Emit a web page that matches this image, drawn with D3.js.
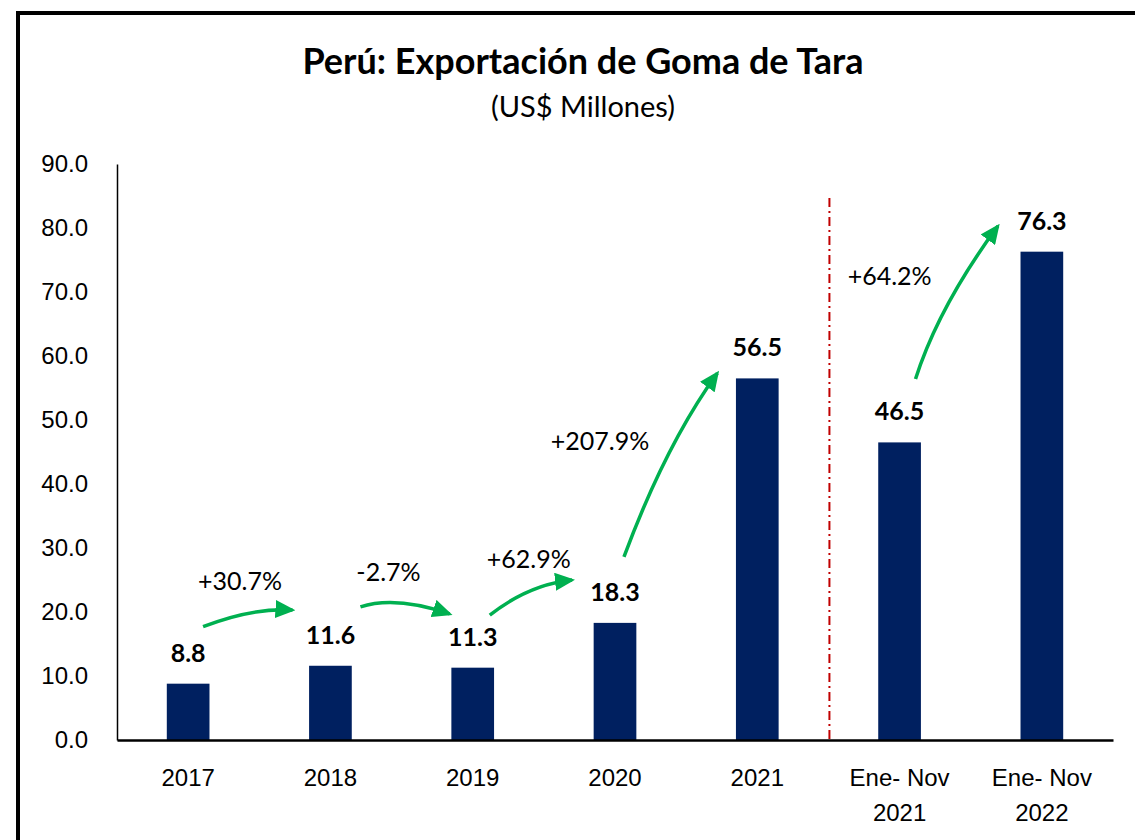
<!DOCTYPE html>
<html>
<head>
<meta charset="utf-8">
<title>Perú: Exportación de Goma de Tara</title>
<script src="https://cdn.jsdelivr.net/npm/d3@7"></script>
<style>
    body { margin: 0; background: #fff; }
    svg { display: block; font-family: Lato, "Open Sans", sans-serif; }
    .tick-label { font-size: 24px; fill: #000; }
    .value-label { font-size: 25px; font-weight: bold; fill: #000; }
    .growth-label { font-size: 25px; fill: #000; }
</style>
</head>
<body>
<div id="chart"></div>
<script>
// data
const categories = ['2017', '2018', '2019', '2020', '2021', 'Ene- Nov|2021', 'Ene- Nov|2022'];
const values = [8.8, 11.6, 11.3, 18.3, 56.5, 46.5, 76.3];
const yTicks = [0, 10, 20, 30, 40, 50, 60, 70, 80, 90];
const growthLabels = ['+30.7%', '-2.7%', '+62.9%', '+207.9%', '+64.2%'];

// arrow annotations: [category index, offset in bands, value]
const arrowFrom = [[0, 0.105, 17.7], [1, 0.211, 20.8], [2, 0.12, 19.5], [3, 0.063, 28.6], [5, 0.112, 56.4]];
const arrowCtrl = [[0, 0.453, 20.7], [1, 0.457, 22.6], [2, 0.394, 24.3], [3, 0.355, 46.1], [5, 0.274, 67.7]];
const arrowTo = [[1, -0.267, 20.3], [2, -0.162, 19.7], [3, -0.302, 25.0], [4, -0.281, 57.3], [6, -0.309, 80.3]];
const labelAt = [[0, 0.365, 23.4], [1, 0.408, 24.8], [2, 0.394, 26.9], [3, -0.105, 45.3], [5, -0.07, 71.1]];

const width = 1135, height = 840;
const plot = { left: 117, right: 1113, top: 164, bottom: 740 };

const svg = d3.select('#chart').append('svg')
    .attr('width', width)
    .attr('height', height);

// outer frame (runs off the right and bottom edge)
svg.append('rect')
    .attr('x', 18).attr('y', 13)
    .attr('width', 1300).attr('height', 1000)
    .attr('fill', 'none')
    .attr('stroke', '#000')
    .attr('stroke-width', 4);

svg.append('text')
    .attr('x', 583).attr('y', 74)
    .attr('text-anchor', 'middle')
    .style('font-size', '36px')
    .style('font-weight', 'bold')
    .text('Perú: Exportación de Goma de Tara');

svg.append('text')
    .attr('x', 583).attr('y', 117)
    .attr('text-anchor', 'middle')
    .style('font-size', '29px')
    .text('(US$ Millones)');

const x = d3.scaleBand()
    .domain(categories)
    .range([plot.left, plot.right])
    .paddingInner(0.7)
    .paddingOuter(0.35);

const y = d3.scaleLinear()
    .domain([0, 90])
    .range([plot.bottom, plot.top]);

const step = x.step();
const center = i => x(categories[i]) + x.bandwidth() / 2;
const px = p => center(p[0]) + p[1] * step;

// y axis
const yAxis = svg.append('g')
    .attr('transform', `translate(${plot.left},0)`)
    .call(d3.axisLeft(y).tickValues(yTicks).tickSize(0).tickPadding(29).tickFormat(d3.format('.1f')));
yAxis.select('.domain').attr('stroke', '#000').attr('stroke-width', 1.5);
yAxis.selectAll('.tick text').attr('class', 'tick-label').attr('font-family', null).attr('font-size', null);

// separator between full years and Jan-Nov
const sepX = x(categories[5]) - x.step() * x.paddingInner() / 2 + 1;
svg.append('line')
    .attr('x1', sepX).attr('x2', sepX)
    .attr('y1', 198).attr('y2', plot.bottom)
    .attr('stroke', '#C00000')
    .attr('stroke-width', 2)
    .attr('stroke-dasharray', '9,4,2,4');

// bars
svg.selectAll('.bar')
    .data(values)
    .enter()
    .append('rect')
    .attr('class', 'bar')
    .attr('x', (d, i) => x(categories[i]))
    .attr('y', d => y(d))
    .attr('width', x.bandwidth())
    .attr('height', d => y(0) - y(d))
    .attr('fill', '#002060');

svg.selectAll('.value-label')
    .data(values)
    .enter()
    .append('text')
    .attr('class', 'value-label')
    .attr('x', (d, i) => center(i))
    .attr('y', d => y(d) - 22)
    .attr('text-anchor', 'middle')
    .text(d => d.toFixed(1));

// x axis
const xAxis = svg.append('g')
    .attr('transform', `translate(0,${plot.bottom})`)
    .call(d3.axisBottom(x).tickSize(0).tickFormat(''));
xAxis.select('.domain').attr('stroke', '#000').attr('stroke-width', 2.5);

xAxis.selectAll('.tick').each(function (d) {
    const t = d3.select(this).append('text')
        .attr('class', 'tick-label')
        .attr('text-anchor', 'middle')
        .attr('fill', '#000');
    d.split('|').forEach((line, k) => {
        t.append('tspan').attr('x', 0).attr('y', 46 + k * 35).text(line);
    });
});

// growth arrows
svg.append('defs').append('marker')
    .attr('id', 'head')
    .attr('markerUnits', 'userSpaceOnUse')
    .attr('viewBox', '0 0 20 18')
    .attr('markerWidth', 20).attr('markerHeight', 18)
    .attr('refX', 17).attr('refY', 9)
    .attr('orient', 'auto')
    .append('path')
    .attr('d', 'M0,0 L20,9 L0,18 Z')
    .attr('fill', '#00B050');

growthLabels.forEach((g, i) => {
    const p = d3.path();
    p.moveTo(px(arrowFrom[i]), y(arrowFrom[i][2]));
    p.quadraticCurveTo(px(arrowCtrl[i]), y(arrowCtrl[i][2]), px(arrowTo[i]), y(arrowTo[i][2]));
    svg.append('path')
        .attr('d', p.toString())
        .attr('fill', 'none')
        .attr('stroke', '#00B050')
        .attr('stroke-width', 3.5)
        .attr('marker-end', 'url(#head)');

    svg.append('text')
        .attr('class', 'growth-label')
        .attr('x', px(labelAt[i]))
        .attr('y', y(labelAt[i][2]))
        .attr('text-anchor', 'middle')
        .text(g);
});
</script>
</body>
</html>
